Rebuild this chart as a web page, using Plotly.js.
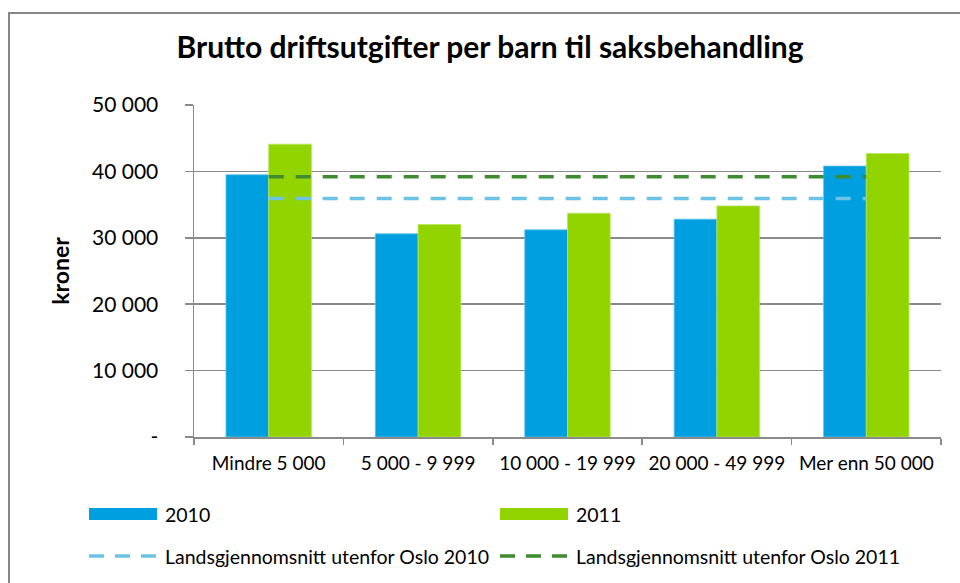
<!DOCTYPE html>
<html>
<head>
<meta charset="utf-8">
<script src="https://cdn.plot.ly/plotly-3.0.1.min.js"></script>
<style>
  html, body { margin: 0; padding: 0; background: #ffffff; }
  #chart { width: 960px; height: 583px; }
</style>
</head>
<body>
<div id="chart"></div>
<script>
// ---- Data ----
var categories = ["Mindre 5 000", "5 000 - 9 999", "10 000 - 19 999", "20 000 - 49 999", "Mer enn 50 000"];
var values2010 = [39500, 30600, 31200, 32800, 40800];
var values2011 = [44100, 32000, 33700, 34800, 42700];
var avgOutsideOslo2010 = [35900, 35900, 35900, 35900, 35900];
var avgOutsideOslo2011 = [39200, 39200, 39200, 39200, 39200];
var seriesNames = ["2010", "2011", "Landsgjennomsnitt utenfor Oslo 2010", "Landsgjennomsnitt utenfor Oslo 2011"];
var yTickVals = [0, 10000, 20000, 30000, 40000, 50000];
var yTickText = ["-", "10 000", "20 000", "30 000", "40 000", "50 000"];
var chartTitle = "Brutto driftsutgifter per barn til saksbehandling";
var yTitle = "kroner";

// ---- Style ----
var C2010 = "#009FDF";
var C2011 = "#92D400";
var CAVG10 = "#6DC3E6";
var CAVG11 = "#3F8B2F";
var GRID = "#8A8A8A";
var FONT = "Lato, 'Open Sans', sans-serif";

var W = 960, H = 583;
var M = { l: 194, r: 19, t: 105, b: 146 };
var PW = W - M.l - M.r, PH = H - M.t - M.b;
function X(px) { return (px - M.l) / PW; }
function Y(py) { return (H - M.b - py) / PH; }

var traces = [
  { type: "bar", name: seriesNames[0], x: categories, y: values2010,
    marker: { color: C2010, line: { color: "#5cc3ec", width: 0.8 } }, showlegend: false, hoverinfo: "y" },
  { type: "bar", name: seriesNames[1], x: categories, y: values2011,
    marker: { color: C2011, line: { color: "#b8e65c", width: 0.8 } }, showlegend: false, hoverinfo: "y" },
  { type: "scatter", mode: "lines", name: seriesNames[2], x: categories, y: avgOutsideOslo2010,
    line: { color: CAVG10, width: 3.5, dash: "15px,12px" }, showlegend: false },
  { type: "scatter", mode: "lines", name: seriesNames[3], x: categories, y: avgOutsideOslo2011,
    line: { color: CAVG11, width: 3.5, dash: "15px,12px" }, showlegend: false }
];

var legendFont = { family: FONT, size: 19.5, color: "#000" };
var shapes = [
  // chart border: only top and left edges are visible in the reference
  { type: "line", xref: "paper", yref: "paper", x0: X(9), x1: X(962), y0: Y(13), y1: Y(13),
    line: { color: "#878787", width: 2 }, layer: "below" },
  { type: "line", xref: "paper", yref: "paper", x0: X(9), x1: X(9), y0: Y(12), y1: Y(585),
    line: { color: "#878787", width: 2 }, layer: "below" },
  // legend swatches
  { type: "rect", xref: "paper", yref: "paper", x0: X(89), x1: X(157), y0: Y(508), y1: Y(520),
    line: { width: 0 }, fillcolor: C2010 },
  { type: "rect", xref: "paper", yref: "paper", x0: X(500), x1: X(568), y0: Y(508), y1: Y(520),
    line: { width: 0 }, fillcolor: C2011 },
  { type: "line", xref: "paper", yref: "paper", x0: X(89), x1: X(157), y0: Y(556), y1: Y(556),
    line: { color: CAVG10, width: 3.5, dash: "15px,11px" } },
  { type: "line", xref: "paper", yref: "paper", x0: X(500), x1: X(568), y0: Y(556), y1: Y(556),
    line: { color: CAVG11, width: 3.5, dash: "15px,11px" } }
];
var annotations = [
  { xref: "paper", yref: "paper", x: X(163), y: Y(514), xanchor: "left", yanchor: "middle", text: seriesNames[0], showarrow: false, font: legendFont },
  { xref: "paper", yref: "paper", x: X(574), y: Y(514), xanchor: "left", yanchor: "middle", text: seriesNames[1], showarrow: false, font: legendFont },
  { xref: "paper", yref: "paper", x: X(163), y: Y(556), xanchor: "left", yanchor: "middle", text: seriesNames[2], showarrow: false, font: legendFont },
  { xref: "paper", yref: "paper", x: X(574), y: Y(556), xanchor: "left", yanchor: "middle", text: seriesNames[3], showarrow: false, font: legendFont }
];

var layout = {
  width: W, height: H,
  margin: M,
  paper_bgcolor: "#ffffff", plot_bgcolor: "#ffffff",
  font: { family: FONT, color: "#000" },
  title: { text: "<b>" + chartTitle + "</b>", font: { family: FONT, size: 30, color: "#000" },
           xref: "container", yref: "container", x: 490 / W, xanchor: "center", y: 1 - 47 / H, yanchor: "middle" },
  barmode: "group", bargap: 0.428, bargroupgap: 0,
  showlegend: false,
  xaxis: {
    type: "category", showgrid: false, showline: true, linecolor: GRID, linewidth: 1.5,
    ticks: "outside", tickson: "boundaries", ticklen: 6, tickwidth: 1.5, tickcolor: GRID,
    tickfont: { family: FONT, size: 19, color: "#000" }, ticklabelstandoff: 9, fixedrange: true
  },
  yaxis: {
    range: [0, 50000], tickvals: yTickVals, ticktext: yTickText,
    showgrid: true, gridcolor: GRID, gridwidth: 1.5, zeroline: false,
    showline: true, linecolor: GRID, linewidth: 1.5,
    ticks: "outside", ticklen: 8, tickwidth: 1.5, tickcolor: GRID,
    tickfont: { family: FONT, size: 21, color: "#000" }, ticklabelstandoff: 22,
    title: { text: "<b>" + yTitle + "</b>", font: { family: FONT, size: 23, color: "#000" }, standoff: 16 },
    fixedrange: true
  },
  shapes: shapes,
  annotations: annotations
};

Plotly.newPlot("chart", traces, layout, { displayModeBar: false, staticPlot: true });
</script>
</body>
</html>
